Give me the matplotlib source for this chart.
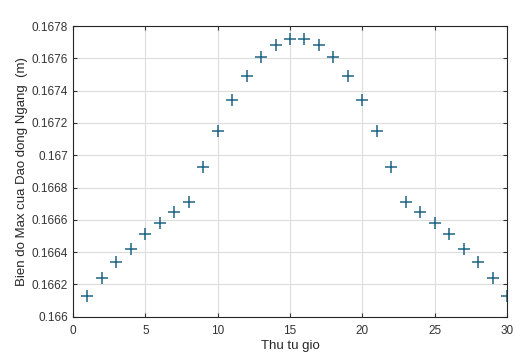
import matplotlib
matplotlib.use("Agg")
import matplotlib.pyplot as plt
import numpy as np

hours = list(range(1, 31))
amp_max = [0.16613, 0.16624, 0.16634, 0.16642, 0.16651, 0.16658, 0.16665, 0.16671,
           0.16693, 0.16715, 0.16734, 0.16749, 0.16761, 0.16768, 0.16772,
           0.16772, 0.16768, 0.16761, 0.16749, 0.16734, 0.16715, 0.16693,
           0.16671, 0.16665, 0.16658, 0.16651, 0.16642, 0.16634, 0.16624, 0.16613]
yticks = [0.166, 0.1662, 0.1664, 0.1666, 0.1668, 0.167, 0.1672, 0.1674, 0.1676, 0.1678]
ylabels = ['0.166', '0.1662', '0.1664', '0.1666', '0.1668', '0.167', '0.1672', '0.1674', '0.1676', '0.1678']

plt.rcParams['font.family'] = ['Liberation Sans', 'DejaVu Sans']

fig = plt.figure(figsize=(5.16, 3.57), dpi=100)
ax = fig.add_axes([0.1415, 0.113, 0.841, 0.814])
ax.plot(hours, amp_max, '+', color='#1f6485', markersize=8.5, markeredgewidth=1.1)
ax.set_xlim(0, 30)
ax.set_ylim(0.166, 0.1678)
ax.set_xticks(np.arange(0, 31, 5))
ax.set_yticks(yticks)
ax.set_yticklabels(ylabels)
ax.grid(True, color='#dcdcdc', linewidth=0.8)
ax.set_axisbelow(True)
ax.tick_params(direction='in', top=True, right=True, labelsize=8.5, colors='#333333', length=3)
ax.tick_params(axis='x', pad=6)
for s in ax.spines.values():
    s.set_color('#262626')
    s.set_linewidth(0.8)
ax.set_xlabel('Thu tu gio', fontsize=9.5, color='#262626', labelpad=2)
ax.set_ylabel('Bien do Max cua Dao dong Ngang  (m)', fontsize=9.5, color='#262626', labelpad=3)
fig.savefig('out.png', dpi=100)
